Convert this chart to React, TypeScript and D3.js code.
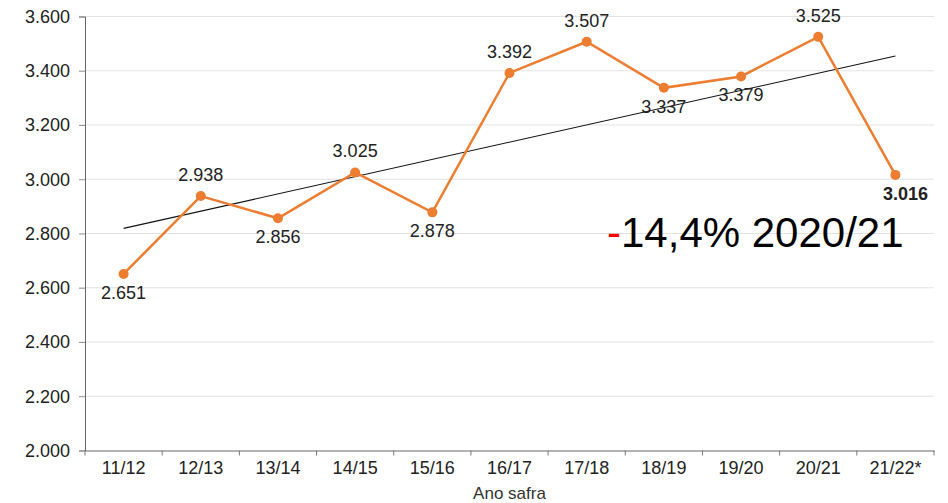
import React, { useEffect, useRef } from "react";
import * as d3 from "d3";

const seasons = ["11/12", "12/13", "13/14", "14/15", "15/16", "16/17", "17/18", "18/19", "19/20", "20/21", "21/22*"];
const productivity = [2651, 2938, 2856, 3025, 2878, 3392, 3507, 3337, 3379, 3525, 3016];
const labelBelow = [true, false, true, false, true, false, false, true, true, false, true];
const yTicks = [2000, 2200, 2400, 2600, 2800, 3000, 3200, 3400, 3600];

const W = 948;
const H = 503;
const margin = { top: 16.5, right: 14, bottom: 52.5, left: 85 };
const orange = "#ED7D31";
const font = "Liberation Sans, Arial, sans-serif";
const fmt = (v: number) => d3.format(",")(v).replace(/,/g, ".");

const App = () => {
  const svgRef = useRef<SVGSVGElement>(null);

  useEffect(() => {
    const svg = d3.select(svgRef.current);
    svg.selectAll("*").remove();

    const width = W - margin.left - margin.right;
    const height = H - margin.top - margin.bottom;
    const g = svg.append("g").attr("transform", `translate(${margin.left},${margin.top})`);

    const x = d3.scaleBand().domain(seasons).range([0, width]).padding(0);
    const y = d3.scaleLinear().domain([2000, 3600]).range([height, 0]);
    const cx = (i: number) => (x(seasons[i]) as number) + x.bandwidth() / 2;

    // grid
    g.selectAll(".grid")
      .data(yTicks.slice(1))
      .enter()
      .append("line")
      .attr("x1", -6)
      .attr("x2", width)
      .attr("y1", (d) => y(d))
      .attr("y2", (d) => y(d))
      .attr("stroke", "#e3e3e3")
      .attr("stroke-width", 1.2);

    // y axis
    const yAxis = g.append("g").call(
      d3.axisLeft(y).tickValues(yTicks).tickSize(6).tickFormat((d) => fmt(d as number))
    );
    yAxis.select(".domain").attr("stroke", "#666");
    yAxis.selectAll(".tick line").attr("stroke", "#999");
    yAxis
      .selectAll("text")
      .attr("font-family", font)
      .attr("font-size", 18)
      .attr("fill", "#222")
      .attr("x", -15);

    // x axis
    const xAxis = g
      .append("g")
      .attr("transform", `translate(0,${height})`)
      .call(d3.axisBottom(x).tickSize(0).tickPadding(11));
    xAxis.select(".domain").attr("stroke", "#666");
    xAxis
      .selectAll("text")
      .attr("font-family", font)
      .attr("font-size", 18)
      .attr("fill", "#222");
    g.selectAll(".xt")
      .data(d3.range(seasons.length + 1))
      .enter()
      .append("line")
      .attr("x1", (i) => i * x.bandwidth())
      .attr("x2", (i) => i * x.bandwidth())
      .attr("y1", height)
      .attr("y2", height + 5)
      .attr("stroke", "#777");

    g.append("text")
      .attr("x", width / 2)
      .attr("y", height + 48.5)
      .attr("text-anchor", "middle")
      .attr("font-family", font)
      .attr("font-size", 17)
      .attr("fill", "#333")
      .text("Ano safra");

    // trend line (least squares)
    const idx = d3.range(productivity.length);
    const mx = d3.mean(idx) as number;
    const my = d3.mean(productivity) as number;
    const slope =
      d3.sum(idx, (i) => (i - mx) * (productivity[i] - my)) / d3.sum(idx, (i) => (i - mx) ** 2);
    const fit = (i: number) => my + slope * (i - mx);
    g.append("line")
      .attr("x1", cx(0))
      .attr("y1", y(fit(0)))
      .attr("x2", cx(productivity.length - 1))
      .attr("y2", y(fit(productivity.length - 1)))
      .attr("stroke", "#111")
      .attr("stroke-width", 1.1);

    // series
    const line = d3
      .line<number>()
      .x((_, i) => cx(i))
      .y((d) => y(d));
    g.append("path")
      .datum(productivity)
      .attr("d", line)
      .attr("fill", "none")
      .attr("stroke", orange)
      .attr("stroke-width", 2.5);

    g.selectAll(".dot")
      .data(productivity)
      .enter()
      .append("circle")
      .attr("cx", (_, i) => cx(i))
      .attr("cy", (d) => y(d))
      .attr("r", 5)
      .attr("fill", orange);

    const last = productivity.length - 1;
    g.selectAll(".lbl")
      .data(productivity)
      .enter()
      .append("text")
      .attr("x", (_, i) => cx(i) + (i === last ? 10 : 0))
      .attr("y", (d, i) => y(d) + (labelBelow[i] ? 25 : -15))
      .attr("text-anchor", "middle")
      .attr("font-family", font)
      .attr("font-size", 18)
      .attr("font-weight", (_, i) => (i === last ? "bold" : "normal"))
      .attr("fill", "#222")
      .text((d) => fmt(d));

    // annotation
    const ann = svg
      .append("text")
      .attr("x", 607)
      .attr("y", 247)
      .attr("font-family", font)
      .attr("font-size", 42)
      .attr("fill", "#000");
    ann.append("tspan").attr("fill", "#ff0000").text("-");
    ann.append("tspan").text("14,4% 2020/21");
  }, []);

  return <svg ref={svgRef} width={W} height={H} style={{ position: "absolute", left: 0, top: 0, background: "#fff" }} />;
};

export default App;
